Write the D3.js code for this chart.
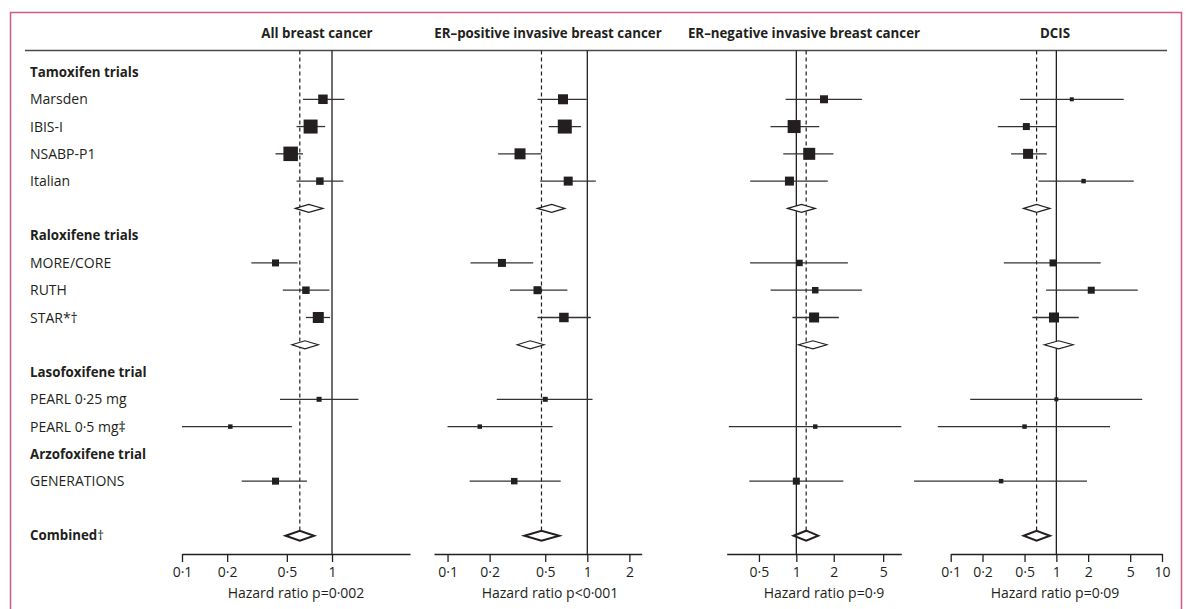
<!DOCTYPE html>
<meta charset="utf-8">
<script src="https://d3js.org/d3.v7.min.js"></script>
<style>
    body { margin: 0; background: #fff; }
    text { font-family: "Open Sans", sans-serif; fill: #231f20; }
    .head { font-weight: bold; font-size: 13.3px; }
    .label { font-size: 14px; }
    .group { font-weight: bold; font-size: 13.3px; }
    .tick text { font-size: 14px; }
    .axis-title { font-size: 14px; }
</style>
<div id="chart"></div>
<script>

    // rows shown down the left side (blank = pooled diamond / spacer)
    var rowLabels = ["Tamoxifen trials", "Marsden", "IBIS-I", "NSABP-P1", "Italian", "",
        "Raloxifene trials", "MORE/CORE", "RUTH", "STAR*†", "",
        "Lasofoxifene trial", "PEARL 0·25 mg", "PEARL 0·5 mg‡",
        "Arzofoxifene trial", "GENERATIONS", "", "Combined"];
    var groupRows = [0, 6, 11, 14, 17];

    var trials = ["Marsden", "IBIS-I", "NSABP-P1", "Italian", "MORE/CORE", "RUTH",
        "STAR*†", "PEARL 0·25 mg", "PEARL 0·5 mg‡", "GENERATIONS"];
    var trialRows = [1, 2, 3, 4, 7, 8, 9, 12, 13, 15];

    var panelTitles = ["All breast cancer", "ER–positive invasive breast cancer",
        "ER–negative invasive breast cancer", "DCIS"];
    var pValues = ["p=0·002", "p<0·001", "p=0·9", "p=0·09"];

    // hazard ratio, lower CI, upper CI, weight (one entry per trial)
    var allBC = [
        [0.87, 0.64, 1.21, 90], [0.72, 0.58, 0.90, 196], [0.53, 0.42, 0.64, 210],
        [0.83, 0.58, 1.19, 56], [0.42, 0.29, 0.59, 49], [0.67, 0.47, 0.96, 56],
        [0.81, 0.67, 0.97, 121], [0.82, 0.45, 1.50, 25], [0.21, 0.10, 0.54, 20],
        [0.42, 0.25, 0.68, 49]
    ];
    var erPos = [
        [0.67, 0.44, 0.99, 100], [0.69, 0.53, 0.90, 196], [0.33, 0.23, 0.47, 121],
        [0.73, 0.46, 1.15, 81], [0.245, 0.146, 0.41, 64], [0.44, 0.28, 0.72, 64],
        [0.68, 0.44, 1.06, 90], [0.50, 0.225, 1.09, 25], [0.17, 0.10, 0.565, 20],
        [0.30, 0.144, 0.645, 42]
    ];
    var erNeg = [
        [1.67, 0.82, 3.37, 64], [0.96, 0.62, 1.53, 169], [1.27, 0.785, 1.99, 144],
        [0.88, 0.425, 1.79, 81], [1.06, 0.425, 2.6, 42], [1.42, 0.62, 3.37, 42],
        [1.39, 0.93, 2.2, 100], null, [1.42, 0.286, 7.0, 20],
        [1.0, 0.418, 2.39, 49]
    ];
    var dcis = [
        [1.40, 0.454, 4.34, 16], [0.52, 0.279, 1.0, 49], [0.54, 0.373, 0.81, 100],
        [1.81, 0.676, 5.4, 20], [0.93, 0.318, 2.63, 49], [2.14, 0.80, 5.89, 49],
        [0.95, 0.593, 1.63, 100], [1.0, 0.153, 6.5, 16], [0.50, 0.0755, 3.22, 20],
        [0.30, 0.045, 1.95, 20]
    ];

    // pooled estimates: tamoxifen, raloxifene, combined
    var pooledRows = [5, 10, 17];
    var pooledAll = [[0.70, 0.57, 0.87], [0.66, 0.54, 0.81], [0.61, 0.49, 0.76]];
    var pooledPos = [[0.556, 0.44, 0.69], [0.39, 0.315, 0.49], [0.47, 0.355, 0.63]];
    var pooledNeg = [[1.10, 0.85, 1.42], [1.36, 1.04, 1.76], [1.20, 0.95, 1.50]];
    var pooledDcis = [[0.65, 0.49, 0.87], [1.05, 0.77, 1.44], [0.65, 0.49, 0.87]];

    var tickSets = [[0.1, 0.2, 0.5, 1], [0.1, 0.2, 0.5, 1, 2], [0.5, 1, 2, 5],
        [0.1, 0.2, 0.5, 1, 2, 5, 10]];

    var panelData = [allBC, erPos, erNeg, dcis];
    var panelPooled = [pooledAll, pooledPos, pooledNeg, pooledDcis];

    // layout of each panel's axis (pixels)
    var layout = [
        {domain: [0.1, 3.31], range: [182, 410], titleX: 296, headX: 317},
        {domain: [0.08, 2.45], range: [434, 641.7], titleX: 550, headX: 548},
        {domain: [0.275, 7], range: [726.7, 901.3], titleX: 824, headX: 804},
        {domain: [0.1, 10], range: [950.7, 1162], titleX: 1055, headX: 1055}
    ];

    var W = 1186, H = 609;
    var ruleY = 50.5, axisY = 554;
    var ink = "#231f20";

    var svg = d3.select("#chart").append("svg")
        .attr("width", W)
        .attr("height", H);

    // pink frame
    svg.append("rect")
        .attr("x", 10.5).attr("y", 12.5)
        .attr("width", 1171).attr("height", 620)
        .attr("fill", "none")
        .attr("stroke", "#d5587d")
        .attr("stroke-width", 1.5);

    // rule under headers
    svg.append("line")
        .attr("x1", 25).attr("x2", 1167)
        .attr("y1", ruleY).attr("y2", ruleY)
        .attr("stroke", "#4a4a4a")
        .attr("stroke-width", 1.5);

    var y = d3.scalePoint()
        .domain(d3.range(rowLabels.length))
        .range([72, 535.7]);

    var size = d3.scaleSqrt().domain([0, 196]).range([0, 14]);

    // row labels
    svg.selectAll(".rowlab")
        .data(rowLabels)
        .enter()
        .append("text")
        .attr("class", function(d, i) { return groupRows.indexOf(i) >= 0 ? "group" : "label"; })
        .attr("x", 30)
        .attr("y", function(d, i) { return y(i); })
        .attr("dy", "0.36em")
        .text(function(d) { return d; });

    // dagger after Combined (regular weight)
    d3.selectAll(".group").filter(function(d) { return d === "Combined"; })
        .append("tspan")
        .style("font-weight", "normal")
        .style("fill", ink)
        .text("†");

    panelData.forEach(function(data, p) {
        var L = layout[p];
        var x = d3.scaleLog().domain(L.domain).range(L.range);
        var g = svg.append("g");
        var pooled = panelPooled[p];

        // header
        g.append("text")
            .attr("class", "head")
            .attr("x", L.headX)
            .attr("y", 38)
            .attr("text-anchor", "middle")
            .text(panelTitles[p]);

        // line of no effect
        g.append("line")
            .attr("x1", x(1)).attr("x2", x(1))
            .attr("y1", ruleY).attr("y2", axisY)
            .attr("stroke", ink)
            .attr("stroke-width", 1.3);

        // dashed line at combined estimate
        var comb = pooled[2];
        g.append("line")
            .attr("x1", x(comb[0])).attr("x2", x(comb[0]))
            .attr("y1", ruleY).attr("y2", y(17) - 5)
            .attr("stroke", ink)
            .attr("stroke-width", 1.2)
            .attr("stroke-dasharray", "4,3");

        // axis
        var axis = d3.axisBottom(x)
            .tickValues(tickSets[p])
            .tickFormat(function(d) { return String(d).replace(".", "·"); })
            .tickSize(8)
            .tickSizeOuter(0)
            .tickPadding(5);
        var ax = g.append("g")
            .attr("transform", "translate(0," + axisY + ")")
            .call(axis);
        ax.select(".domain").attr("stroke", ink).attr("stroke-width", 1.5);
        ax.selectAll(".tick line").attr("stroke", ink).attr("stroke-width", 1.3);
        ax.selectAll(".tick text").attr("fill", ink).style("font-family", "Open Sans, sans-serif");

        g.append("text")
            .attr("class", "axis-title")
            .attr("x", L.titleX)
            .attr("y", 598)
            .attr("text-anchor", "middle")
            .text("Hazard ratio " + pValues[p]);

        // trials
        var rows = data.map(function(d, i) { return d ? {hr: d[0], lo: d[1], hi: d[2], w: d[3], row: trialRows[i]} : null; })
            .filter(function(d) { return d; });

        g.selectAll(".ci")
            .data(rows)
            .enter()
            .append("line")
            .attr("x1", function(d) { return x(d.lo); })
            .attr("x2", function(d) { return x(d.hi); })
            .attr("y1", function(d) { return y(d.row); })
            .attr("y2", function(d) { return y(d.row); })
            .attr("stroke", "#333")
            .attr("stroke-width", 1.3);

        g.selectAll(".box")
            .data(rows)
            .enter()
            .append("rect")
            .attr("x", function(d) { return x(d.hr) - size(d.w) / 2; })
            .attr("y", function(d) { return y(d.row) - size(d.w) / 2; })
            .attr("width", function(d) { return size(d.w); })
            .attr("height", function(d) { return size(d.w); })
            .attr("fill", ink);

        // pooled diamonds
        g.selectAll(".diamond")
            .data(pooled)
            .enter()
            .append("path")
            .attr("d", function(d, i) {
                var cy = y(pooledRows[i]);
                var h = i === 2 ? 5 : 4;
                return "M" + x(d[1]) + "," + cy +
                    "L" + x(d[0]) + "," + (cy - h) +
                    "L" + x(d[2]) + "," + cy +
                    "L" + x(d[0]) + "," + (cy + h) + "Z";
            })
            .attr("fill", "#fff")
            .attr("stroke", ink)
            .attr("stroke-width", function(d, i) { return i === 2 ? 2 : 1.2; });
    });

</script>
